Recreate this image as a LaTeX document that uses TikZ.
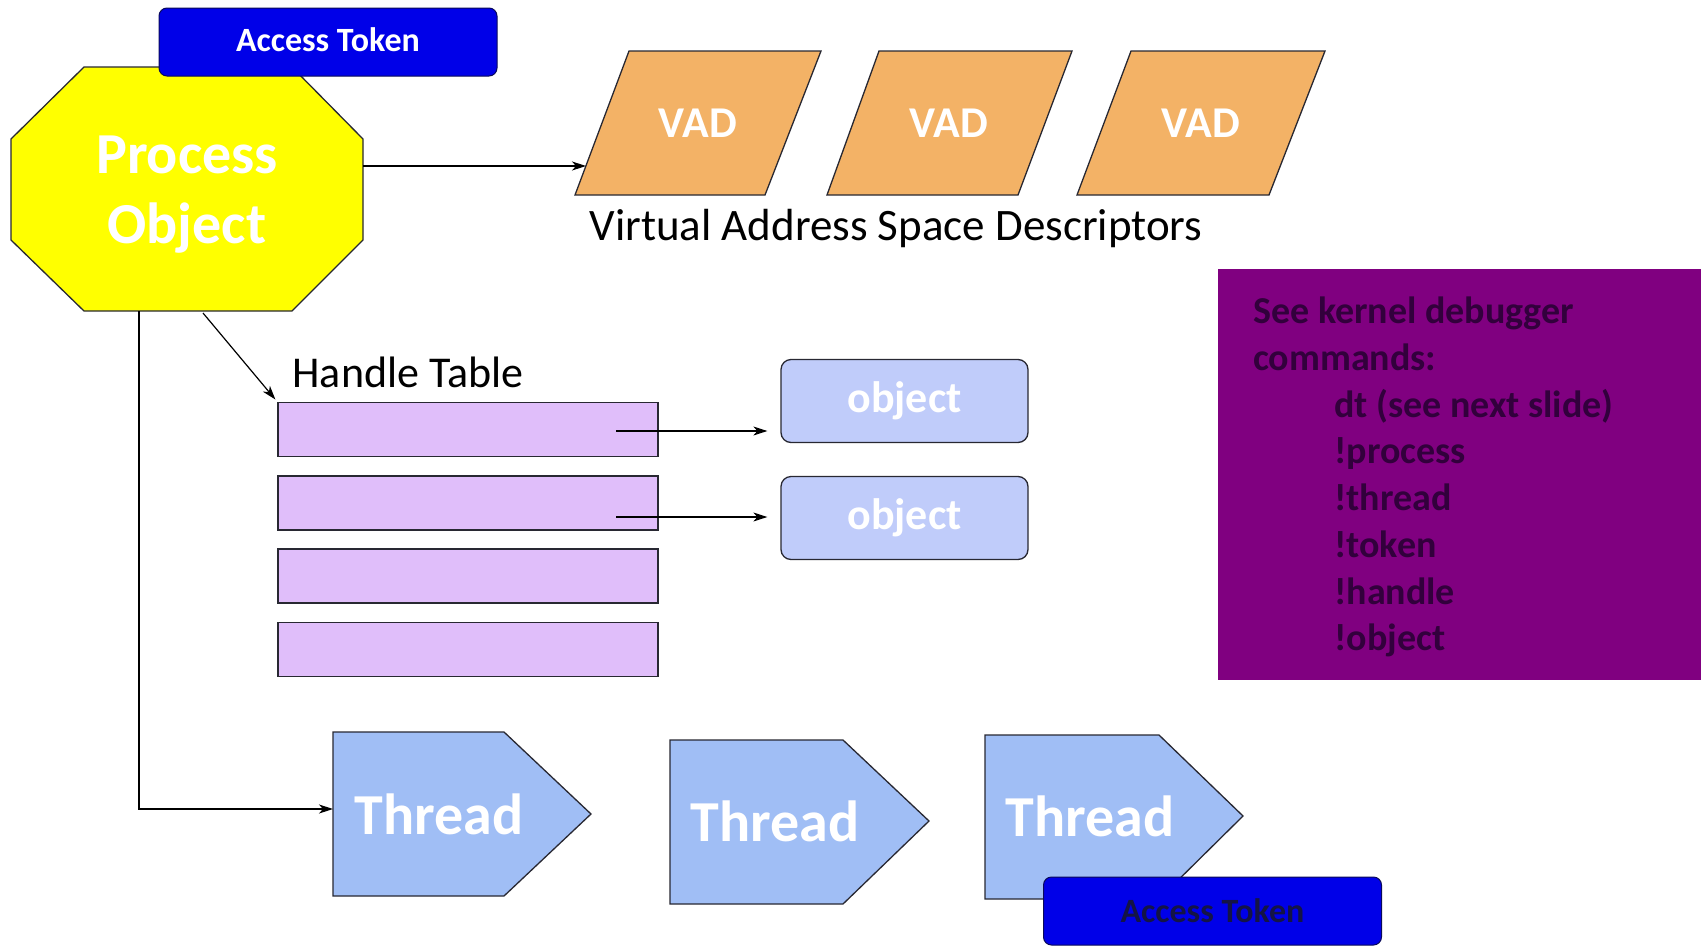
\documentclass[tikz,border=0pt]{standalone}
\usepackage{fontspec}
\setmainfont{Carlito}
\usetikzlibrary{arrows.meta,calc}
\definecolor{poyellow}{RGB}{255,255,0}
\definecolor{atblue}{RGB}{0,0,232}
\definecolor{atedge}{RGB}{10,10,90}
\definecolor{vadorange}{RGB}{243,178,102}
\definecolor{rowlav}{RGB}{224,190,250}
\definecolor{objblue}{RGB}{192,204,250}
\definecolor{thrblue}{RGB}{160,190,245}
\definecolor{dbgpurple}{RGB}{128,0,128}
\definecolor{dbgtext}{RGB}{50,0,60}
\definecolor{edgec}{RGB}{40,40,50}
\definecolor{at2text}{RGB}{20,20,70}
\tikzset{
  shapeline/.style={draw=edgec, line width=1.3pt},
  arr/.style={draw=black, line width=1.2pt, -{Stealth[length=14pt,width=9pt,inset=4pt]}},
  atbox/.style={fill=atblue, draw=atedge, line width=1pt, rounded corners=8pt,
     minimum width=338pt, minimum height=68pt, inner sep=0pt,
     font=\bfseries\fontsize{34}{40}\selectfont},
  rowbox/.style={fill=rowlav, shapeline, minimum width=380pt, minimum height=54pt, inner sep=0pt},
  objbox/.style={fill=objblue, draw=edgec, line width=1.3pt, rounded corners=10pt,
     minimum width=247pt, minimum height=83pt, inner sep=0pt, text=white,
     font=\bfseries\fontsize{44}{50}\selectfont},
  bigwhite/.style={text=white, inner sep=0pt, align=center},
  threadtext/.style={text=white, inner sep=0pt, font=\bfseries\fontsize{58}{66}\selectfont},
  vadtext/.style={text=white, inner sep=0pt, font=\bfseries\fontsize{44}{50}\selectfont},
  labeltext/.style={text=black, inner sep=0pt},
  dbgline/.style={text=dbgtext, inner sep=0pt, anchor=base west, font=\bfseries\fontsize{38}{46}\selectfont},
}
\begin{document}
\begin{tikzpicture}[x=1pt,y=-1pt]
\useasboundingbox (0,0) rectangle (1701,946);
\fill[white] (0,0) rectangle (1701,946);

% Process object octagon
\path[fill=poyellow, shapeline] (84,67) -- (292,67) -- (363,139) -- (363,240) -- (292,311) -- (84,311) -- (11,240) -- (11,139) -- cycle;
\node[bigwhite, font=\bfseries\fontsize{58}{70}\selectfont] (po) at (187,195) {Process\\Object};
\coordinate (po-e) at (363,166);
\coordinate (po-b) at (139,311);
\coordinate (po-bd) at (203,313);

% Access token (process)
\node[atbox, text=white] (at1) at (328,42) {\raisebox{4pt}{Access Token}};

% VADs
\path[fill=vadorange, shapeline] (629,51) -- (821,51) -- (765,195) -- (575,195) -- cycle;
\path[fill=vadorange, shapeline] (879,51) -- (1072,51) -- (1018,195) -- (827,195) -- cycle;
\path[fill=vadorange, shapeline] (1131,51) -- (1325,51) -- (1269,195) -- (1077,195) -- cycle;
\node[vadtext] (vad1) at (698,123) {VAD};
\node[vadtext] (vad2) at (949,123) {VAD};
\node[vadtext] (vad3) at (1201,123) {VAD};
\coordinate (vad1-w) at (586,166);
\node[labeltext, font=\fontsize{45}{52}\selectfont] (vasd) at (896,228) {Virtual Address Space Descriptors};

\draw[arr] (po-e) -- (vad1-w);

% Debugger box
\fill[dbgpurple] (1218,269) rectangle (1701,680);
\node[dbgline] (dbg1) at (1253,323) {See kernel debugger};
\node[dbgline] (dbg2) at (1253,370) {commands:};
\node[dbgline] (dbg3) at (1334,417) {dt (see next slide)};
\node[dbgline] (dbg4) at (1334,463) {!process};
\node[dbgline] (dbg5) at (1334,510) {!thread};
\node[dbgline] (dbg6) at (1334,557) {!token};
\node[dbgline] (dbg7) at (1334,604) {!handle};
\node[dbgline] (dbg8) at (1334,650) {!object};

% Handle table
\node[labeltext, font=\fontsize{44}{50}\selectfont] (ht) at (408,372) {Handle Table};
\node[rowbox] (row1) at (468,429.5) {};
\node[rowbox] (row2) at (468,503) {};
\node[rowbox] (row3) at (468,576) {};
\node[rowbox] (row4) at (468,649.5) {};

\node[objbox] (obj1) at (904.5,401) {\raisebox{-3pt}{object}};
\node[objbox] (obj2) at (904.5,518) {\raisebox{-3pt}{object}};

\coordinate (r1s) at (616,431);
\coordinate (r2s) at (616,517);
\draw[arr, shorten >=13pt] (r1s) -- (r1s -| obj1.west);
\draw[arr, shorten >=13pt] (r2s) -- (r2s -| obj2.west);

\draw[arr, shorten >=3pt] (po-bd) -- (row1.north west);

% Threads
\path[fill=thrblue, shapeline] (333,732) -- (504,732) -- (591,814) -- (504,896) -- (333,896) -- cycle;
\path[fill=thrblue, shapeline] (670,740) -- (843,740) -- (929,821) -- (843,904) -- (670,904) -- cycle;
\path[fill=thrblue, shapeline] (985,735) -- (1159,735) -- (1243,816) -- (1159,899) -- (985,899) -- cycle;
\node[threadtext] (th1) at (439,814) {Thread};
\node[threadtext] (th2) at (775,821) {Thread};
\node[threadtext] (th3) at (1090,816) {Thread};
\coordinate (th1-w) at (333,809);

\draw[arr] (po-b) |- (th1-w);

% Access token (thread)
\node[atbox, text=at2text] (at2) at (1212.5,911) {Access Token};
\end{tikzpicture}
\end{document}
